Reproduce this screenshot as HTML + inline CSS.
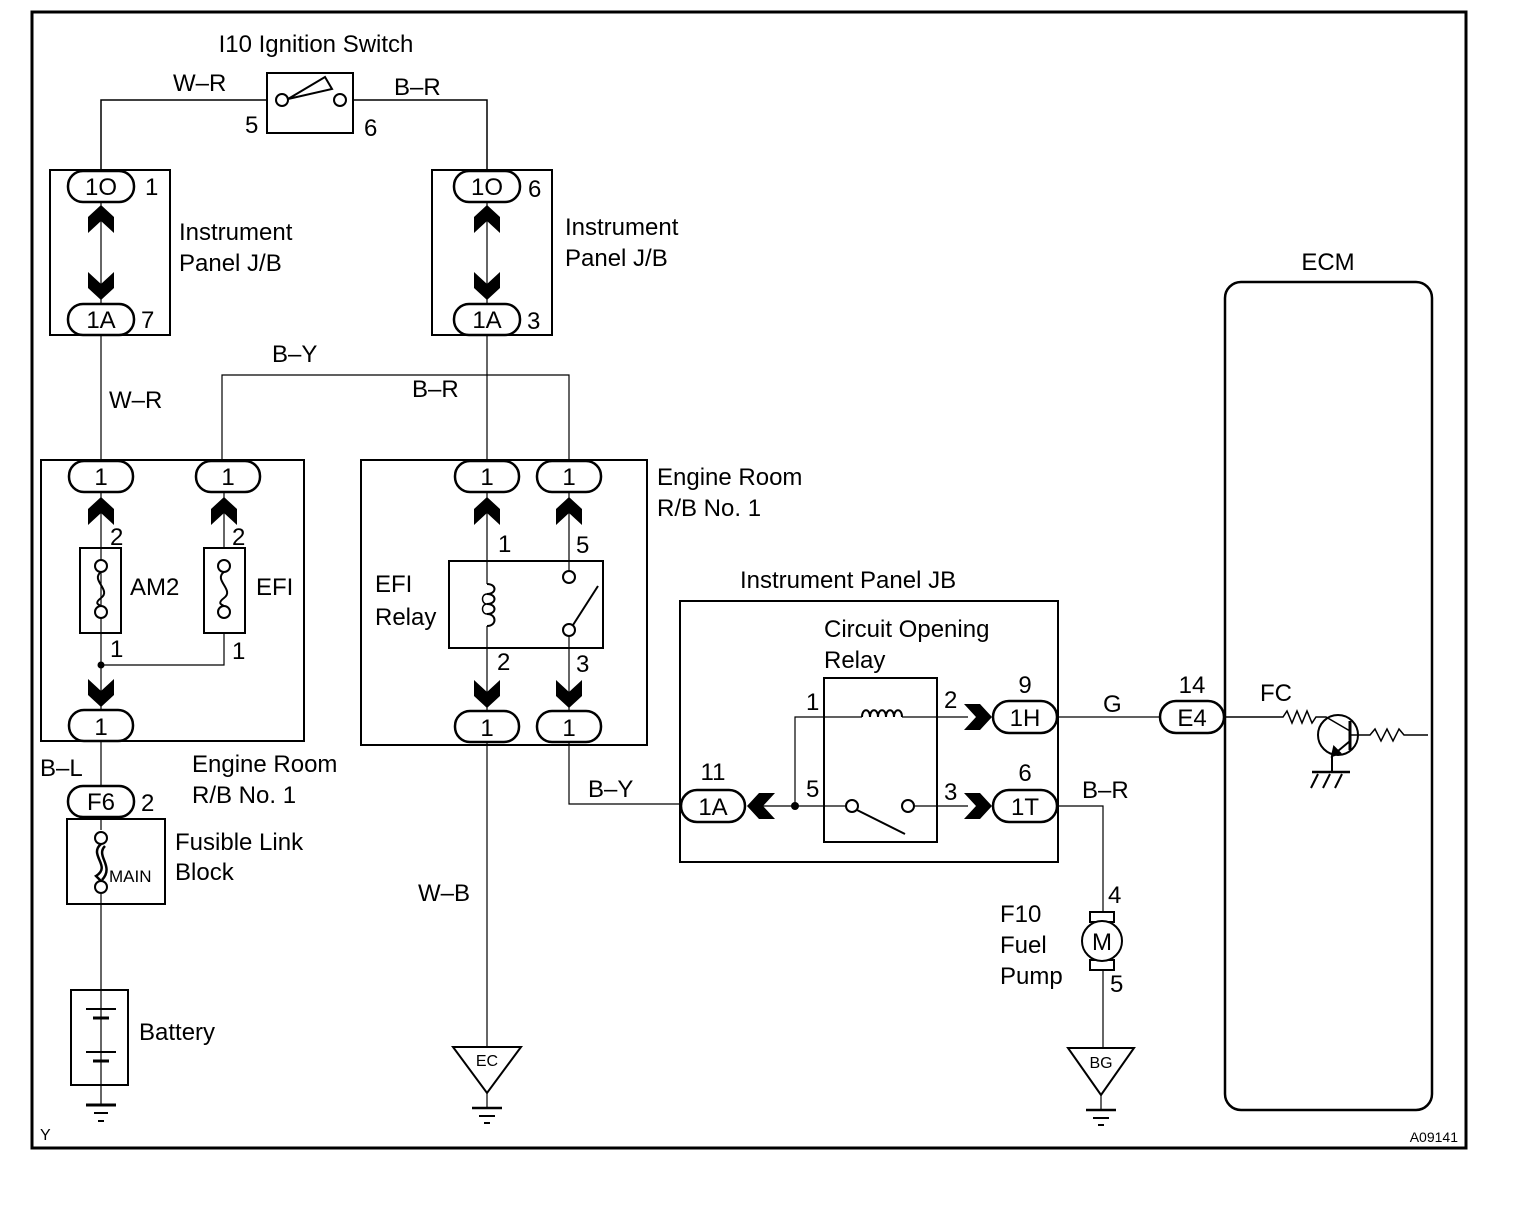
<!DOCTYPE html>
<html><head><meta charset="utf-8"><style>
html,body{margin:0;padding:0;background:#fff}
svg{display:block}
text{font-family:"Liberation Sans",Arial,sans-serif;fill:#000}
</style></head><body>
<svg width="1536" height="1208" viewBox="0 0 1536 1208" xmlns="http://www.w3.org/2000/svg">
<defs>
<path id="cu" d="M0,0 L13,12 L13,28 L0,16 L-13,28 L-13,12 Z" fill="#000"/>
<path id="cd" d="M0,0 L13,-12 L13,-28 L0,-16 L-13,-28 L-13,-12 Z" fill="#000"/>
<path id="cr" d="M0,0 L-12,-13 L-28,-13 L-16,0 L-28,13 L-12,13 Z" fill="#000"/>
<path id="cl" d="M0,0 L12,-13 L28,-13 L16,0 L28,13 L12,13 Z" fill="#000"/>
</defs>
<g fill="none" stroke="#000" stroke-width="2">
<rect x="32" y="12" width="1434" height="1136" stroke-width="3"/>
<rect x="267" y="73" width="86" height="60"/>
<circle cx="282" cy="100" r="6" fill="#fff"/>
<circle cx="340" cy="100" r="6" fill="#fff"/>
<path d="M288,99 L325,77 L332,89 Z" fill="#fff"/>
<polyline points="101,172 101,100 267,100" stroke-width="1.5"/>
<polyline points="353,100 487,100 487,172" stroke-width="1.5"/>
<rect x="50" y="170" width="120" height="165"/>
<line x1="101" y1="202" x2="101" y2="304" stroke-width="1.2"/>
<rect x="432" y="170" width="120" height="165"/>
<line x1="487" y1="202" x2="487" y2="304" stroke-width="1.2"/>
<line x1="101" y1="335" x2="101" y2="462" stroke-width="1.2"/>
<line x1="487" y1="335" x2="487" y2="462" stroke-width="1.2"/>
<polyline points="222,462 222,375 569,375 569,462" stroke-width="1.2"/>
<rect x="41" y="460" width="263" height="281"/>
<rect x="80" y="548" width="41" height="85"/>
<rect x="204" y="548" width="41" height="85"/>
<line x1="101" y1="492" x2="101" y2="711" stroke-width="1.2"/>
<line x1="224" y1="492" x2="224" y2="548" stroke-width="1.2"/>
<polyline points="101,665 224,665 224,633" stroke-width="1.2"/>
<circle cx="101" cy="566" r="6" fill="#fff"/><circle cx="101" cy="612" r="6" fill="#fff"/>
<path d="M101,572 C90,580 112,590 101,598 C93,604 100,605 101,606"/>
<circle cx="224" cy="566" r="6" fill="#fff"/><circle cx="224" cy="612" r="6" fill="#fff"/>
<path d="M224,572 C213,580 235,590 224,598 C216,604 223,605 224,606"/>
<line x1="101" y1="741" x2="101" y2="990" stroke-width="1.2"/>
<rect x="67" y="819" width="98" height="85" fill="#fff"/>
<line x1="101" y1="819" x2="101" y2="830" stroke-width="1.2"/>
<line x1="101" y1="894" x2="101" y2="904" stroke-width="1.2"/>
<circle cx="101" cy="838" r="6" fill="#fff"/><circle cx="101" cy="887" r="6" fill="#fff"/>
<path d="M101,844 C88,855 112,866 96,876 L101,881 M105,846 C95,856 115,866 102,880" stroke-width="2.5"/>
<rect x="71" y="990" width="57" height="95"/>
<line x1="101" y1="990" x2="101" y2="1105" stroke-width="1.2"/>
<line x1="86" y1="1009" x2="116" y2="1009"/><line x1="93" y1="1018" x2="109" y2="1018" stroke-width="3"/>
<line x1="86" y1="1052" x2="116" y2="1052"/><line x1="93" y1="1061" x2="109" y2="1061" stroke-width="3"/>
<line x1="86" y1="1105" x2="116" y2="1105" stroke-width="3"/>
<line x1="94" y1="1113" x2="108" y2="1113"/><line x1="98" y1="1121" x2="104" y2="1121"/>
<rect x="361" y="460" width="286" height="285"/>
<rect x="449" y="561" width="154" height="87"/>
<line x1="487" y1="492" x2="487" y2="584" stroke-width="1.2"/>
<line x1="487" y1="626" x2="487" y2="712" stroke-width="1.2"/>
<path d="M487,584 c10,0 10,10 0,10 c10,0 10,10 0,10 c10,0 10,10 0,10 c10,0 10,12 0,12" stroke-width="2"/>
<path d="M487,594 c-6,0 -6,10 0,10 M487,604 c-6,0 -6,10 0,10" stroke-width="1.5"/>
<line x1="569" y1="492" x2="569" y2="571" stroke-width="1.2"/>
<line x1="569" y1="636" x2="569" y2="712" stroke-width="1.2"/>
<circle cx="569" cy="577" r="6" fill="#fff"/><circle cx="569" cy="630" r="6" fill="#fff"/>
<line x1="573" y1="625" x2="598" y2="586"/>
<line x1="487" y1="742" x2="487" y2="1047" stroke-width="1.2"/>
<polyline points="569,742 569,804 681,804" stroke-width="1.2"/>
<path d="M453,1047 L521,1047 L487,1093 Z"/>
<line x1="487" y1="1093" x2="487" y2="1108" stroke-width="1.2"/>
<line x1="472" y1="1108" x2="502" y2="1108" stroke-width="2.5"/>
<line x1="479" y1="1116" x2="495" y2="1116"/><line x1="484" y1="1123" x2="490" y2="1123"/>
<rect x="680" y="601" width="378" height="261"/>
<rect x="824" y="678" width="113" height="164"/>
<polyline points="795,806 795,717 862,717" stroke-width="1.2"/>
<path d="M862,717 c0,-9 8,-9 8,0 c0,-9 8,-9 8,0 c0,-9 8,-9 8,0 c0,-9 8,-9 8,0 c0,-9 8,-9 8,0" stroke-width="2"/>
<line x1="902" y1="717" x2="968" y2="717" stroke-width="1.2"/>
<line x1="760" y1="806" x2="846" y2="806" stroke-width="1.2"/>
<line x1="914" y1="806" x2="968" y2="806" stroke-width="1.2"/>
<circle cx="852" cy="806" r="6" fill="#fff"/><circle cx="908" cy="806" r="6" fill="#fff"/>
<line x1="857" y1="810" x2="905" y2="834"/>
<line x1="1057" y1="717" x2="1160" y2="717" stroke-width="1.2"/>
<rect x="1225" y="282" width="207" height="828" rx="16" stroke-width="2.5"/>
<polyline points="1224,717 1283,717 1287,711 1292,723 1297,711 1302,723 1307,711 1312,723 1316,717 1326,717 1350,731" stroke-width="1.5"/>
<circle cx="1338" cy="735" r="20"/>
<line x1="1350" y1="721" x2="1350" y2="750" stroke-width="3"/>
<line x1="1350" y1="741" x2="1332" y2="756"/>
<path d="M1332,756 L1334,747 L1340,753 Z" fill="#000"/>
<polyline points="1350,735 1370,735 1375,729 1381,741 1387,729 1393,741 1399,729 1404,735 1428,735" stroke-width="1.5"/>
<line x1="1332" y1="756" x2="1332" y2="772"/>
<line x1="1312" y1="772" x2="1350" y2="772" stroke-width="2.5"/>
<path d="M1318,774 L1311,788 M1330,774 L1323,788 M1342,774 L1335,788"/>
<polyline points="1057,806 1103,806 1103,912" stroke-width="1.2"/>
<rect x="1090" y="912" width="24" height="10" fill="#fff"/>
<rect x="1090" y="960" width="24" height="10" fill="#fff"/>
<circle cx="1102" cy="941" r="20" fill="#fff"/>
<line x1="1103" y1="970" x2="1103" y2="1048" stroke-width="1.2"/>
<path d="M1068,1048 L1134,1048 L1101,1095 Z"/>
<line x1="1101" y1="1095" x2="1101" y2="1110" stroke-width="1.2"/>
<line x1="1086" y1="1110" x2="1116" y2="1110" stroke-width="2.5"/>
<line x1="1093" y1="1118" x2="1109" y2="1118"/><line x1="1098" y1="1125" x2="1104" y2="1125"/>
</g>
<g fill="#fff" stroke="#000" stroke-width="2.5">
<rect x="68" y="171" width="66" height="31" rx="15"/>
<rect x="68" y="304" width="66" height="31" rx="15"/>
<rect x="454" y="171" width="66" height="31" rx="15"/>
<rect x="454" y="304" width="66" height="31" rx="15"/>
<rect x="69" y="461" width="64" height="31" rx="15"/>
<rect x="196" y="461" width="64" height="31" rx="15"/>
<rect x="69" y="710" width="64" height="31" rx="15"/>
<rect x="68" y="786" width="66" height="31" rx="15"/>
<rect x="455" y="461" width="64" height="31" rx="15"/>
<rect x="537" y="461" width="64" height="31" rx="15"/>
<rect x="455" y="711" width="64" height="31" rx="15"/>
<rect x="537" y="711" width="64" height="31" rx="15"/>
<rect x="681" y="790" width="64" height="32" rx="16"/>
<rect x="993" y="701" width="64" height="32" rx="16"/>
<rect x="993" y="790" width="64" height="32" rx="16"/>
<rect x="1160" y="701" width="64" height="32" rx="16"/>
</g>
<use href="#cu" x="101" y="205"/><use href="#cd" x="101" y="300"/>
<use href="#cu" x="487" y="205"/><use href="#cd" x="487" y="300"/>
<use href="#cu" x="101" y="497"/><use href="#cu" x="224" y="497"/>
<use href="#cd" x="101" y="707"/>
<use href="#cu" x="487" y="497"/><use href="#cu" x="569" y="497"/>
<use href="#cd" x="487" y="708"/><use href="#cd" x="569" y="708"/>
<use href="#cr" x="992" y="717"/><use href="#cr" x="992" y="806"/>
<use href="#cl" x="747" y="806"/>
<circle cx="101" cy="665" r="3.5"/>
<circle cx="795" cy="806" r="4"/>
<g font-size="24">
<text x="316" y="52" text-anchor="middle">I10 Ignition Switch</text>
<text x="173" y="91">W–R</text>
<text x="394" y="95">B–R</text>
<text x="245" y="133">5</text>
<text x="364" y="136">6</text>
<text x="101" y="195" text-anchor="middle">1O</text>
<text x="145" y="195">1</text>
<text x="101" y="328" text-anchor="middle">1A</text>
<text x="141" y="328">7</text>
<text x="179" y="240">Instrument</text>
<text x="179" y="271">Panel J/B</text>
<text x="487" y="195" text-anchor="middle">1O</text>
<text x="528" y="197">6</text>
<text x="487" y="328" text-anchor="middle">1A</text>
<text x="527" y="329">3</text>
<text x="565" y="235">Instrument</text>
<text x="565" y="266">Panel J/B</text>
<text x="272" y="362">B–Y</text>
<text x="109" y="408">W–R</text>
<text x="412" y="397">B–R</text>
<text x="101" y="485" text-anchor="middle">1</text>
<text x="228" y="485" text-anchor="middle">1</text>
<text x="101" y="735" text-anchor="middle">1</text>
<text x="110" y="545">2</text>
<text x="232" y="545">2</text>
<text x="130" y="595">AM2</text>
<text x="256" y="595">EFI</text>
<text x="110" y="657">1</text>
<text x="232" y="659">1</text>
<text x="487" y="485" text-anchor="middle">1</text>
<text x="569" y="485" text-anchor="middle">1</text>
<text x="487" y="736" text-anchor="middle">1</text>
<text x="569" y="736" text-anchor="middle">1</text>
<text x="498" y="552">1</text>
<text x="576" y="553">5</text>
<text x="497" y="670">2</text>
<text x="576" y="672">3</text>
<text x="375" y="592">EFI</text>
<text x="375" y="625">Relay</text>
<text x="657" y="485">Engine Room</text>
<text x="657" y="516">R/B No. 1</text>
<text x="192" y="772">Engine Room</text>
<text x="192" y="803">R/B No. 1</text>
<text x="40" y="776">B–L</text>
<text x="101" y="810" text-anchor="middle">F6</text>
<text x="141" y="811">2</text>
<text x="175" y="850">Fusible Link</text>
<text x="175" y="880">Block</text>
<text x="139" y="1040">Battery</text>
<text x="588" y="797">B–Y</text>
<text x="418" y="901">W–B</text>
<text x="740" y="588">Instrument Panel JB</text>
<text x="824" y="637">Circuit Opening</text>
<text x="824" y="668">Relay</text>
<text x="806" y="710">1</text>
<text x="806" y="797">5</text>
<text x="944" y="708">2</text>
<text x="944" y="800">3</text>
<text x="713" y="780" text-anchor="middle">11</text>
<text x="713" y="815" text-anchor="middle">1A</text>
<text x="1025" y="693" text-anchor="middle">9</text>
<text x="1025" y="726" text-anchor="middle">1H</text>
<text x="1025" y="781" text-anchor="middle">6</text>
<text x="1025" y="815" text-anchor="middle">1T</text>
<text x="1103" y="712">G</text>
<text x="1082" y="798">B–R</text>
<text x="1192" y="693" text-anchor="middle">14</text>
<text x="1192" y="726" text-anchor="middle">E4</text>
<text x="1260" y="701">FC</text>
<text x="1328" y="270" text-anchor="middle">ECM</text>
<text x="1108" y="903">4</text>
<text x="1110" y="992">5</text>
<text x="1000" y="922">F10</text>
<text x="1000" y="953">Fuel</text>
<text x="1000" y="984">Pump</text>
<text x="1102" y="950" text-anchor="middle" font-size="24">M</text>
</g>
<text x="109" y="882" font-size="17">MAIN</text>
<text x="487" y="1066" text-anchor="middle" font-size="16">EC</text>
<text x="1101" y="1068" text-anchor="middle" font-size="16">BG</text>
<text x="40" y="1140" font-size="16">Y</text>
<text x="1458" y="1142" text-anchor="end" font-size="14">A09141</text>
</svg>
</body></html>
